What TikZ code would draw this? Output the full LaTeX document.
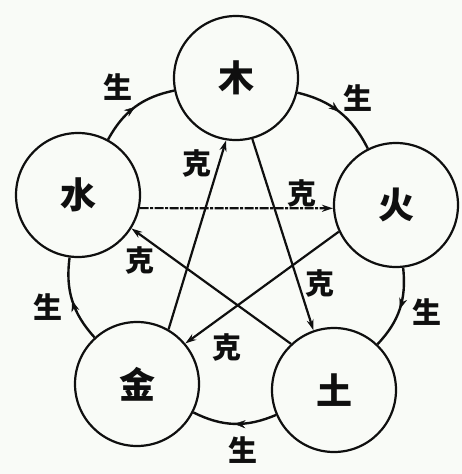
\documentclass[tikz,border=0pt]{standalone}
\usepackage{fontspec}
\newfontfamily\cjk{Noto Sans CJK SC}
\usetikzlibrary{arrows.meta,decorations.markings}
\definecolor{paper}{RGB}{249,251,247}
\definecolor{ink}{RGB}{15,15,15}
\begin{document}
\begin{tikzpicture}[x=1pt,y=-1pt,
  elem/.style={circle,draw=ink,line width=2.2pt,minimum size=124pt,inner sep=0pt,text=ink,
    font=\fontsize{36}{36}\cjk\bfseries\selectfont},
  lbl/.style={font=\fontsize{29}{29}\cjk\bfseries\selectfont,inner sep=0pt,text=ink},
  arc/.style={draw=ink,line width=2.4pt,bend left=25},
  midtip/.style={bend left=25,postaction={decorate},
    decoration={markings,mark=at position 0.5 with {\arrow[ink]{Stealth[length=11pt,width=8pt]}}}},
  ke/.style={draw=ink,line width=2.2pt,-{Stealth[length=11pt,width=7pt]}},
  broken/.style={dash pattern=on 9pt off 1.5pt on 3pt off 1.5pt}]
\fill[paper] (0,0) rectangle (462,474);
\useasboundingbox (0,0) rectangle (462,474);

\node[elem] (mu) at (236,78) {木};
\node[elem] (huo) at (396,205) {火};
\node[elem] (tu) at (334,390) {土};
\node[elem] (jin) at (137,384) {金};
\node[elem] (shui) at (78,195) {水};

% sheng cycle
\draw[arc] (shui) to (mu);
\draw[arc] (mu) to (huo);
\draw[arc] (huo) to (tu);
\draw[arc] (tu) to (jin);
\draw[arc] (jin) to (shui);
\path[midtip] (shui) to (mu);
\path[midtip] (mu) to (huo);
\path[midtip] (huo) to (tu);
\path[midtip] (tu) to (jin);
\path[midtip] (jin) to (shui);

% ke star
\draw[ke] (mu.-75) -- (tu.109);
\draw[ke] (tu.133) -- (shui.-32);
\draw[ke,broken] (shui.-12) -- (huo.183);
\draw[ke] (huo.205) -- (jin.40);
\draw[ke] (jin.60) -- (mu.-99);

% labels
\node[lbl] (s1) at (118,87) {生};
\node[lbl] (s2) at (358,98) {生};
\node[lbl] (s3) at (427,312) {生};
\node[lbl] (s4) at (243,450) {生};
\node[lbl] (s5) at (48,307) {生};
\node[lbl] (k1) at (197,163) {克};
\node[lbl] (k2) at (302,193) {克};
\node[lbl] (k3) at (320,283) {克};
\node[lbl] (k4) at (140,260) {克};
\node[lbl] (k5) at (227,347) {克};
\end{tikzpicture}
\end{document}
